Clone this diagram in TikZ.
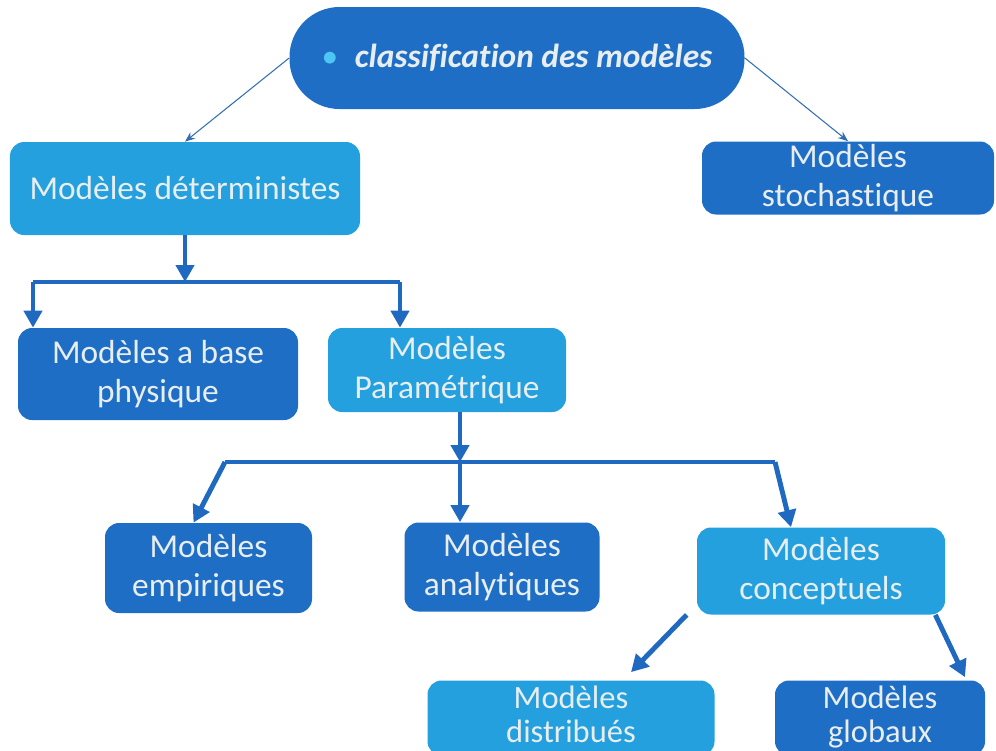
\documentclass[tikz,border=0pt]{standalone}
\usepackage{fontspec}
\setmainfont[Ligatures=NoCommon]{Carlito}
\usetikzlibrary{arrows.meta}

\definecolor{darkbox}{RGB}{30,110,198}
\definecolor{lightbox}{RGB}{36,160,222}
\definecolor{linkcol}{RGB}{31,106,192}
\definecolor{boxtext}{RGB}{232,238,240}

\newcommand{\lowtext}[2]{\raisebox{8pt}{\begin{tabular}{@{}c@{}}#1\\[-2pt]#2\end{tabular}}}

\begin{document}
\begin{tikzpicture}[
	every node/.style={font=\fontsize{19}{22.5}\selectfont, text=boxtext, align=center},
	box/.style={rectangle, rounded corners=8pt, inner sep=0pt},
	dbox/.style={box, fill=darkbox},
	lbox/.style={box, fill=lightbox},
	lowbox/.style={minimum width=#1, minimum height=1.5cm, font=\fontsize{18.5}{21}\selectfont},
	thinlink/.style={draw=linkcol!80!gray, line width=0.6pt, -{Stealth[length=2mm,width=1.6mm]}},
	link/.style={draw=linkcol, line width=2.8pt},
	arr/.style={link, -{Triangle[length=3.4mm,width=3.6mm]}}
	]
	\useasboundingbox (0,0) rectangle (19.92,-15);
	\clip (0,0) rectangle (19.92,-15);
	% root of the classification
	\node[box, fill=darkbox, rounded corners=1cm, minimum width=9.1cm, minimum height=2.04cm] (root) at (10.34,-1.16)
		{\textcolor{cyan!70!white}{\textbullet}\enspace\textbf{\textit{classification des modèles}}};
	% first level
	\node[lbox, minimum width=7cm, minimum height=1.86cm] (det) at (3.7,-3.77) {Modèles déterministes};
	\node[dbox, minimum width=5.84cm, minimum height=1.46cm] (sto) at (16.96,-3.56) {Modèles\\stochastique};
	\draw[thinlink] (root.west) -- (det.north);
	\draw[thinlink] (root.east) -- (sto.north);
	% second level
	\node[dbox, minimum width=5.6cm, minimum height=1.84cm] (phy) at (3.16,-7.48) {Modèles a base\\physique};
	\node[lbox, minimum width=4.76cm, minimum height=1.68cm] (par) at (8.94,-7.4) {Modèles\\Paramétrique};
	\coordinate (detj) at (3.7,-5.64);
	\coordinate (detl) at (0.66,-5.64);
	\coordinate (detr) at (8,-5.64);
	\draw[arr] (det.south) -- (detj);
	\draw[link] (detl) -- (detr);
	\draw[arr] (detl) -- (detl |- phy.north);
	\draw[arr] (detr) -- (detr |- par.north);
	% third level
	\node[dbox, minimum width=4.14cm, minimum height=1.8cm] (emp) at (4.17,-11.36) {Modèles\\empiriques};
	\node[dbox, minimum width=3.9cm, minimum height=1.78cm] (ana) at (10.04,-11.34) {Modèles\\analytiques};
	\node[lbox, minimum width=4.96cm, minimum height=1.74cm] (con) at (16.42,-11.42) {Modèles\\conceptuels};
	\coordinate (parj) at (9.2,-9.24);
	\coordinate (parl) at (4.5,-9.24);
	\coordinate (parr) at (15.5,-9.24);
	\draw[arr] (parj |- par.south) -- (parj);
	\draw[link] (parl) -- (parr);
	\draw[arr] (parl) -- ([xshift=-0.3cm]emp.north);
	\draw[arr] (parj) -- (parj |- ana.north);
	\draw[arr] (parr) -- ([xshift=-0.6cm]con.north);
	% fourth level (cut by the lower edge)
	\node[lbox, lowbox=5.74cm] (dis) at (11.42,-14.36) {\lowtext{Modèles}{distribués}};
	\node[dbox, lowbox=4.2cm] (glo) at (17.6,-14.36) {\lowtext{Modèles}{globaux}};
	\draw[arr] ([xshift=-0.2cm]con.south west) -- ([xshift=1.2cm,yshift=0.16cm]dis.north);
	\draw[arr] ([xshift=-0.2cm]con.south east) -- ([xshift=1.7cm,yshift=0.06cm]glo.north);
\end{tikzpicture}
\end{document}
